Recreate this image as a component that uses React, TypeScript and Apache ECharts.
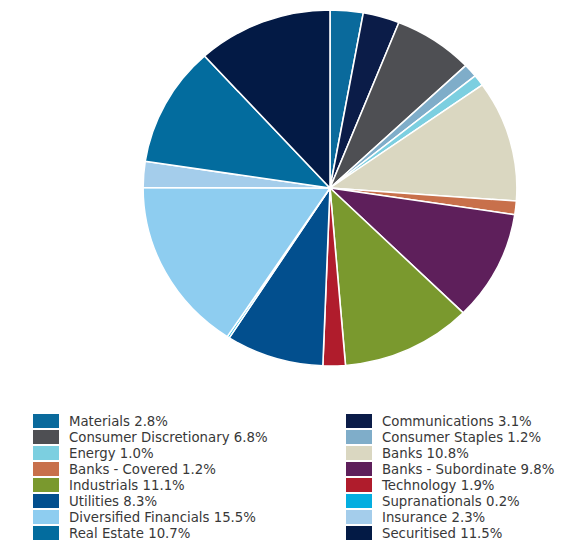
import React, { useEffect, useRef } from "react";
import * as echarts from "echarts";

const categories = [
  "Materials",
  "Communications",
  "Consumer Discretionary",
  "Consumer Staples",
  "Energy",
  "Banks",
  "Banks - Covered",
  "Banks - Subordinate",
  "Industrials",
  "Technology",
  "Utilities",
  "Supranationals",
  "Diversified Financials",
  "Insurance",
  "Real Estate",
  "Securitised",
];

const values = [2.8, 3.1, 6.8, 1.2, 1.0, 10.8, 1.2, 9.8, 11.1, 1.9, 8.3, 0.2, 15.5, 2.3, 10.7, 11.5];

const colors = [
  "#0a6a9c",
  "#0b1c48",
  "#4e4f53",
  "#7fadc9",
  "#7ccfe0",
  "#dad7c1",
  "#c8704b",
  "#5e1f5b",
  "#7a992e",
  "#b01c2c",
  "#024f8e",
  "#04aee0",
  "#8ecdf0",
  "#a4cdeb",
  "#036c9e",
  "#031a45",
];

const leftNames = categories.filter((_, i) => i % 2 === 0);
const rightNames = categories.filter((_, i) => i % 2 === 1);

export default function App() {
  const pieRef = useRef<HTMLDivElement>(null);
  const legRef = useRef<HTMLDivElement>(null);
  useEffect(() => {
    if (!pieRef.current || !legRef.current) return;
    const pie = echarts.init(pieRef.current, null, { renderer: "svg" });
    const leg = echarts.init(legRef.current, null, { renderer: "svg" });
    const valueOf: Record<string, number> = {};
    categories.forEach((c, i) => (valueOf[c] = values[i]));
    const seriesData = categories.map((c, i) => ({ name: c, value: values[i] }));

    pie.setOption({
      animation: false,
      color: colors,
      series: [
        {
          type: "pie",
          center: [330, 188],
          radius: 178,
          startAngle: 90,
          clockwise: true,
          label: { show: false },
          labelLine: { show: false },
          emphasis: { disabled: true },
          itemStyle: { borderColor: "#ffffff", borderWidth: 1.5 },
          data: seriesData,
        },
      ],
    });

    const legendCommon = {
      orient: "vertical" as const,
      top: 413,
      padding: 0,
      itemWidth: 26,
      itemHeight: 14,
      itemGap: 0,
      icon: "rect",
      selectedMode: false,
      formatter: (name: string) => `${name} ${valueOf[name].toFixed(1)}%`,
      textStyle: {
        fontFamily: "DejaVu Sans",
        fontSize: 13.3,
        color: "#383838",
        lineHeight: 16,
        padding: [0, 0, 0, 5],
      },
    };
    leg.setOption({
      animation: false,
      color: colors,
      legend: [
        { ...legendCommon, left: 33, data: leftNames },
        { ...legendCommon, left: 346, data: rightNames },
      ],
      series: [
        {
          type: "pie",
          center: [-500, -500],
          radius: 1,
          silent: true,
          label: { show: false },
          labelLine: { show: false },
          data: seriesData,
        },
      ],
    });
    return () => {
      pie.dispose();
      leg.dispose();
    };
  }, []);
  return (
    <div style={{ position: "fixed", left: 0, top: 0, width: 585, height: 542, background: "#fff" }}>
      <div
        ref={legRef}
        style={{ position: "absolute", left: 0, top: 0, width: 585, height: 542 }}
      />
      <div
        ref={pieRef}
        style={{
          position: "absolute",
          left: 0,
          top: 0,
          width: 585,
          height: 390,
          transform: "scaleX(1.05)",
          transformOrigin: "330px 188px",
        }}
      />
    </div>
  );
}
